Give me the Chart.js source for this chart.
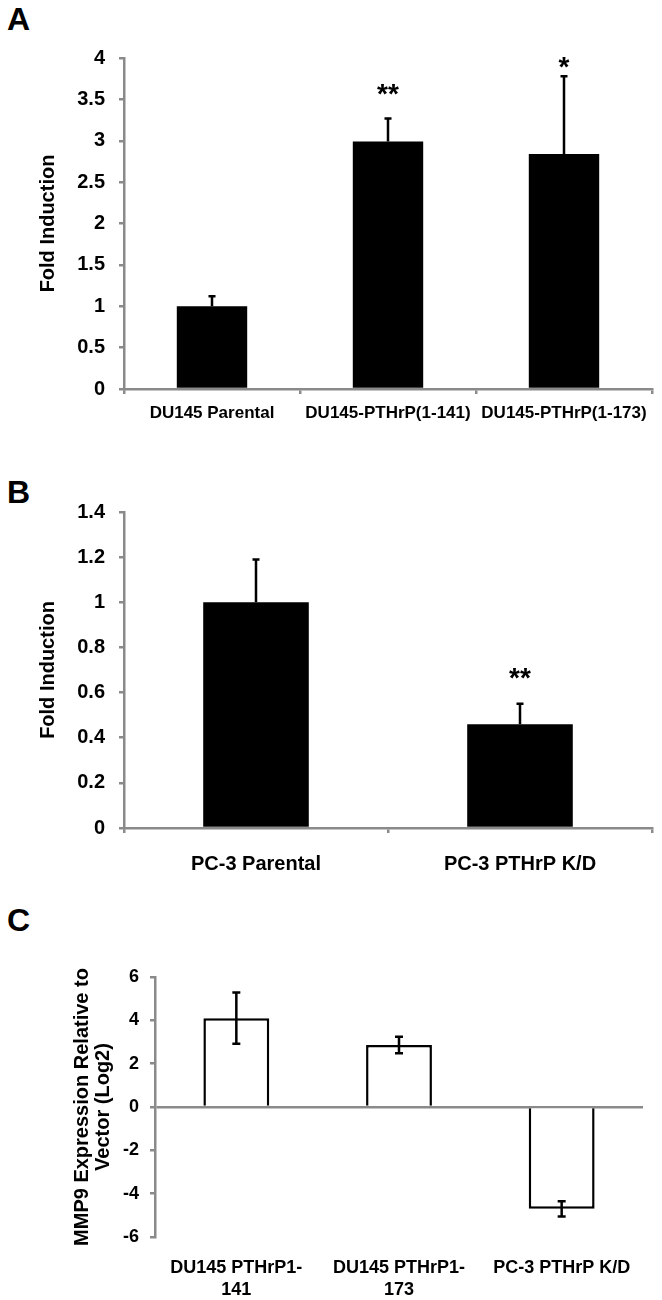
<!DOCTYPE html>
<html>
<head>
<meta charset="utf-8">
<script src="https://cdn.jsdelivr.net/npm/chart.js@4.4.0/dist/chart.umd.min.js"></script>
<style>
  body { margin: 0; background: #fff; width: 662px; height: 1300px; position: relative; overflow: hidden; font-family: 'Liberation Sans', Arial, sans-serif; }
  canvas { position: absolute; left: 0; }
  .letter { position: absolute; left: 7px; font-weight: bold; font-size: 32px; line-height: 32px; }
</style>
</head>
<body>
<div class="letter" style="top:3px">A</div>
<div class="letter" style="top:476px">B</div>
<div class="letter" style="top:904px">C</div>
<canvas id="chartA" width="662" height="430" style="top:0;width:662px;height:430px"></canvas>
<canvas id="chartB" width="662" height="450" style="top:430px;width:662px;height:450px"></canvas>
<canvas id="chartC" width="662" height="420" style="top:880px;width:662px;height:420px"></canvas>
<script>
// panel A
const labelsA = ['DU145 Parental', 'DU145-PTHrP(1-141)', 'DU145-PTHrP(1-173)'];
const valuesA = [1.0, 2.99, 2.84];
const errorsA = [0.12, 0.28, 0.94];
const starsA = ['', '**', '*'];
const starLevelA = [null, 3.63, 3.96];
const ticksA = ['0', '0.5', '1', '1.5', '2', '2.5', '3', '3.5', '4'];

// panel B
const labelsB = ['PC-3 Parental', 'PC-3 PTHrP K/D'];
const valuesB = [1.0, 0.46];
const errorsB = [0.19, 0.09];
const starsB = ['', '**'];
const starLevelB = [null, 0.69];
const ticksB = ['0', '0.2', '0.4', '0.6', '0.8', '1', '1.2', '1.4'];

// panel C
const labelsC = [['DU145 PTHrP1-', '141'], ['DU145 PTHrP1-', '173'], 'PC-3 PTHrP K/D'];
const valuesC = [4.1, 2.86, -4.7];
const errorsC = [1.18, 0.38, 0.35];
const ticksC = ['-6', '-4', '-2', '0', '2', '4', '6'];

const AXIS = '#8a8a8a';
Chart.defaults.font.family = "'Liberation Sans', Arial, sans-serif";
Chart.defaults.font.weight = 'bold';
Chart.defaults.color = '#000';

function tickText(list) {
    return v => list.find(t => Math.abs(parseFloat(t) - v) < 1e-6) ?? '';
}

// error bars + significance stars
const errorBars = {
    id: 'errorBars',
    afterDatasetsDraw(chart, args, opts) {
        const ctx = chart.ctx;
        const y = chart.scales.y;
        const data = chart.data.datasets[0].data;
        ctx.save();
        ctx.strokeStyle = '#000';
        ctx.lineWidth = 2.5;
        chart.getDatasetMeta(0).data.forEach((bar, i) => {
            const v = data[i], e = opts.errors[i];
            const top = y.getPixelForValue(v + e);
            const bot = y.getPixelForValue(opts.both ? v - e : v);
            ctx.beginPath();
            ctx.moveTo(bar.x, bot);
            ctx.lineTo(bar.x, top);
            ctx.moveTo(bar.x - opts.cap, top);
            ctx.lineTo(bar.x + opts.cap, top);
            if (opts.both) {
                ctx.moveTo(bar.x - opts.cap, bot);
                ctx.lineTo(bar.x + opts.cap, bot);
            }
            ctx.stroke();
            if (opts.stars && opts.stars[i]) {
                const size = 28;
                ctx.font = 'bold ' + size + "px 'Liberation Sans', Arial, sans-serif";
                ctx.fillStyle = '#000';
                ctx.textAlign = 'center';
                ctx.textBaseline = 'alphabetic';
                ctx.fillText(opts.stars[i], bar.x, y.getPixelForValue(opts.starLevel[i]) + size * 0.53);
            }
        });
        ctx.restore();
    }
};

function makeChart(id, cfg) {
    return new Chart(document.getElementById(id), {
        type: 'bar',
        data: {
            labels: cfg.labels,
            datasets: [{
                data: cfg.values,
                backgroundColor: cfg.fill,
                borderColor: '#000',
                borderWidth: cfg.border,
                categoryPercentage: 1,
                barPercentage: cfg.barPct
            }]
        },
        plugins: [errorBars],
        options: {
            responsive: false,
            animation: false,
            layout: { padding: { top: cfg.top, right: cfg.right, left: 0, bottom: 0 } },
            plugins: {
                legend: { display: false },
                tooltip: { enabled: false },
                errorBars: cfg.err
            },
            scales: {
                x: {
                    afterFit: s => { s.height = cfg.xHeight; },
                    border: cfg.xBorder ? { color: AXIS, width: 2.5 } : { display: false },
                    grid: cfg.xBorder
                        ? { drawOnChartArea: false, drawTicks: true, tickLength: 5, color: AXIS, lineWidth: 2.5 }
                        : { display: false, drawTicks: false },
                    ticks: { font: { size: cfg.xFont, lineHeight: 1.17 }, padding: cfg.xPad, maxRotation: 0, autoSkip: false }
                },
                y: {
                    min: cfg.min, max: cfg.max,
                    afterFit: s => { s.width = cfg.yWidth; },
                    border: { color: AXIS, width: 2.5 },
                    grid: {
                        drawOnChartArea: cfg.zeroLine,
                        color: c => (cfg.zeroLine && c.tick && c.tick.value === 0) ? AXIS : 'rgba(0,0,0,0)',
                        tickColor: AXIS, lineWidth: 2.5, tickLength: 5
                    },
                    ticks: { stepSize: cfg.step, font: { size: cfg.yFont }, padding: cfg.yPad, callback: tickText(cfg.ticks) },
                    title: { display: true, text: cfg.title, font: { size: cfg.titleSize, lineHeight: cfg.titleLH }, padding: { top: cfg.titlePad, bottom: 0 } }
                }
            }
        }
    });
}

makeChart('chartA', {
    labels: labelsA, values: valuesA, fill: '#000', border: 0, barPct: 0.4,
    top: 58, right: 10, xHeight: 41, xBorder: true, xFont: 17, xPad: 9,
    min: 0, max: 4, step: 0.5, ticks: ticksA, yWidth: 124, yFont: 20, yPad: 14, zeroLine: false,
    title: 'Fold Induction', titleSize: 20, titleLH: 1.2, titlePad: 36,
    err: { errors: errorsA, both: false, cap: 3.5, stars: starsA, starLevel: starLevelA }
});

makeChart('chartB', {
    labels: labelsB, values: valuesB, fill: '#000', border: 0, barPct: 0.4,
    top: 82, right: 10, xHeight: 52, xBorder: true, xFont: 20, xPad: 20,
    min: 0, max: 1.4, step: 0.2, ticks: ticksB, yWidth: 124, yFont: 20, yPad: 14, zeroLine: false,
    title: 'Fold Induction', titleSize: 20, titleLH: 1.2, titlePad: 36,
    err: { errors: errorsB, both: false, cap: 3.5, stars: starsB, starLevel: starLevelB }
});

makeChart('chartC', {
    labels: labelsC, values: valuesC, fill: '#fff', border: 2.5, barPct: 0.405,
    top: 97, right: 19, xHeight: 63, xBorder: false, xFont: 18, xPad: 21,
    min: -6, max: 6, step: 2, ticks: ticksC, yWidth: 155, yFont: 18, yPad: 11, zeroLine: true,
    title: ['MMP9 Expression Relative to', 'Vector (Log2)'], titleSize: 20, titleLH: 1.05, titlePad: 71.5,
    err: { errors: errorsC, both: true, cap: 4 }
});
</script>
</body>
</html>
